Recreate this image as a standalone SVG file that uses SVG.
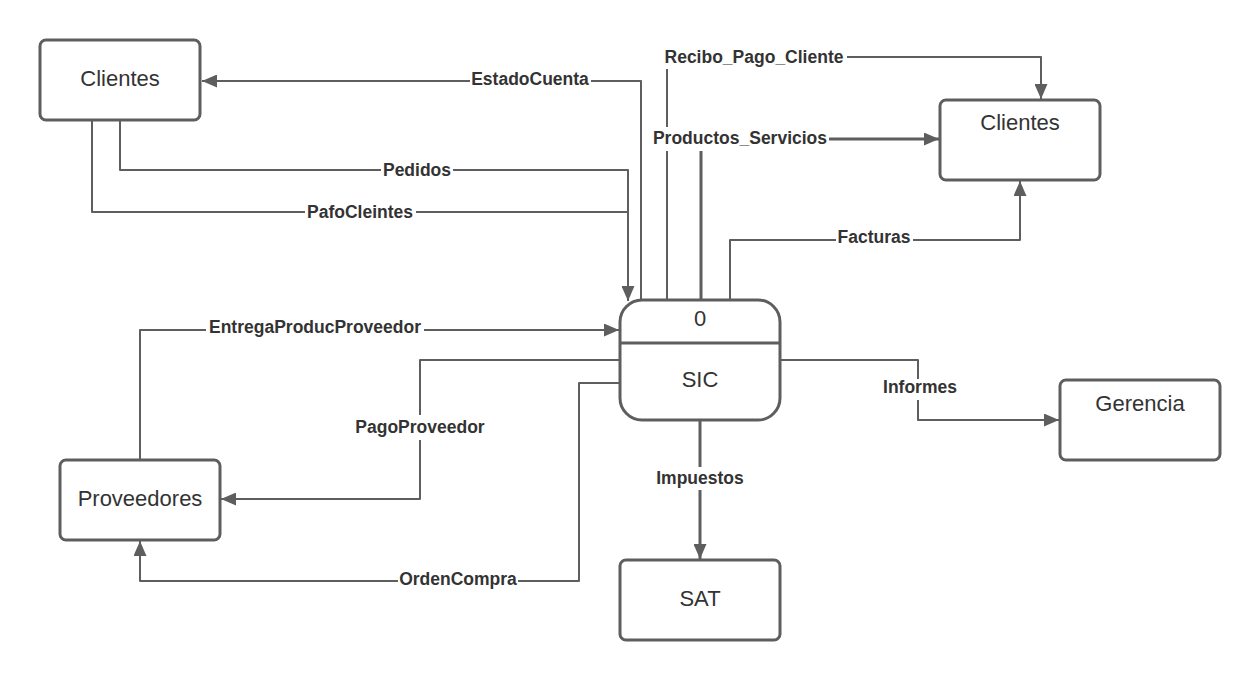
<svg xmlns="http://www.w3.org/2000/svg" width="1260" height="680" viewBox="0 0 1260 680">
<style>
.box{fill:#fff;stroke:#5e5e5e;stroke-width:3}
.nt{font-family:"Liberation Sans",Arial,sans-serif;font-size:22px;fill:#333;text-anchor:middle}
.ln{fill:none;stroke:#5e5e5e;stroke-width:2;stroke-linejoin:round}
.thick{stroke-width:3}
.lb{font-family:"Liberation Sans",Arial,sans-serif;font-size:17.5px;font-weight:bold;fill:#333;text-anchor:middle}
.bg{fill:#fff}
</style>
<defs>
<marker id="arr" markerUnits="userSpaceOnUse" markerWidth="15" markerHeight="13" refX="15" refY="6.5" orient="auto">
<path d="M0,0 L15,6.5 L0,13 z" fill="#5e5e5e"/>
</marker>
</defs>
<rect width="1260" height="680" fill="#fff"/>
<g id="connectors">
<path class="ln" d="M641,300 V81 H202" marker-end="url(#arr)"/>
<path class="ln" d="M92,120 V212 H628 V290"/>
<path class="ln" d="M120,120 V170 H628 V301" marker-end="url(#arr)"/>
<path class="ln" d="M667,300 V57 H1041 V99" marker-end="url(#arr)"/>
<path class="ln thick" d="M701,300 V139 H939" marker-end="url(#arr)"/>
<path class="ln" d="M730,300 V240 H1020 V181" marker-end="url(#arr)"/>
<path class="ln" d="M140,460 V330 H619" marker-end="url(#arr)"/>
<path class="ln" d="M620,360 H420 V499 H221" marker-end="url(#arr)"/>
<path class="ln" d="M620,383 H579 V581 H140 V541" marker-end="url(#arr)"/>
<path class="ln" d="M780,360 H918 V420 H1059" marker-end="url(#arr)"/>
<path class="ln thick" d="M700,420 V559" marker-end="url(#arr)"/>
<rect class="bg" x="470" y="68" width="121" height="22"/>
<text class="lb" x="530" y="85">EstadoCuenta</text>
<rect class="bg" x="381" y="159" width="72" height="22"/>
<text class="lb" x="417" y="176">Pedidos</text>
<rect class="bg" x="305" y="201" width="111" height="22"/>
<text class="lb" x="360" y="218">PafoCleintes</text>
<rect class="bg" x="662" y="44" width="185" height="25"/>
<text class="lb" x="754" y="63">Recibo_Pago_Cliente</text>
<rect class="bg" x="651" y="127" width="178" height="24"/>
<text class="lb" x="740" y="144">Productos_Servicios</text>
<rect class="bg" x="836" y="229" width="77" height="22"/>
<text class="lb" x="874" y="243">Facturas</text>
<rect class="bg" x="206" y="319" width="218" height="22"/>
<text class="lb" x="315" y="333">EntregaProducProveedor</text>
<rect class="bg" x="353" y="415" width="134" height="25"/>
<text class="lb" x="420" y="433">PagoProveedor</text>
<rect class="bg" x="398" y="570" width="120" height="22"/>
<text class="lb" x="458" y="585">OrdenCompra</text>
<rect class="bg" x="881" y="379" width="78" height="21"/>
<text class="lb" x="920" y="393">Informes</text>
<rect class="bg" x="653" y="467" width="94" height="23"/>
<text class="lb" x="700" y="484">Impuestos</text>
</g>
<g id="clientes1">
<rect class="box" x="40" y="40" width="160" height="80" rx="6"/>
<text class="nt" x="120" y="86">Clientes</text>
</g>
<g id="clientes2">
<rect class="box" x="940" y="100" width="160" height="80" rx="6"/>
<text class="nt" x="1020" y="130">Clientes</text>
</g>
<g id="sic">
<rect class="box" x="620" y="300" width="160" height="120" rx="22"/>
<line x1="620" y1="343" x2="780" y2="343" stroke="#5e5e5e" stroke-width="3"/>
<text class="nt" x="700" y="326">0</text>
<text class="nt" x="700" y="387">SIC</text>
</g>
<g id="gerencia">
<rect class="box" x="1060" y="380" width="160" height="80" rx="6"/>
<text class="nt" x="1140" y="411">Gerencia</text>
</g>
<g id="proveedores">
<rect class="box" x="60" y="460" width="160" height="80" rx="6"/>
<text class="nt" x="140" y="506">Proveedores</text>
</g>
<g id="sat">
<rect class="box" x="620" y="560" width="160" height="80" rx="6"/>
<text class="nt" x="700" y="606">SAT</text>
</g>
</svg>
